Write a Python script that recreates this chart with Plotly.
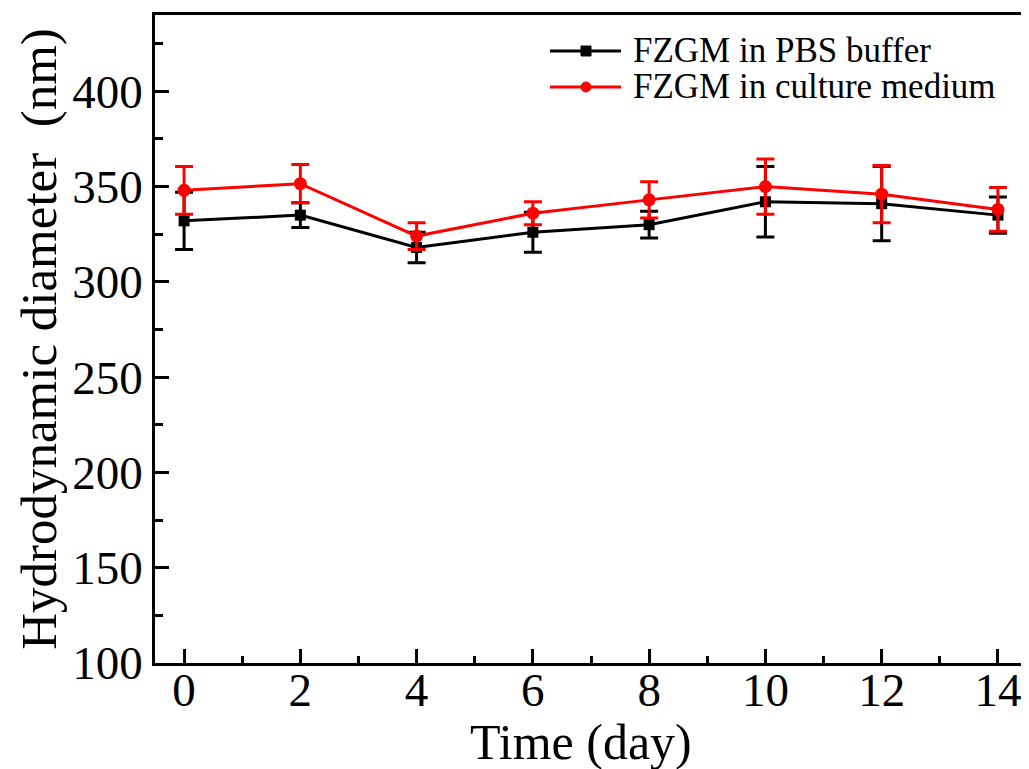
import plotly.graph_objects as go

days = [0, 2, 4, 6, 8, 10, 12, 14]
pbs_mean = [332, 335, 318, 326, 330, 342, 341, 335]
pbs_err = [15, 6.5, 8, 10.5, 7, 18.5, 19.5, 9.5]
medium_mean = [348, 351.5, 324, 336, 343, 350, 346, 338]
medium_err = [12.5, 10, 7, 6, 9.5, 14.5, 15, 11.5]
series_names = ["FZGM in PBS buffer", "FZGM in culture medium"]

FONT = "Liberation Serif, Times New Roman, serif"
OFF = 8  # page body margin
W, H = 1029 - OFF, 769 - OFF
PL, PR, PT, PB = 155, 1027, 15, 663  # plot area in page pixels
L, R, T, B = PL - OFF, W - (PR - OFF), PT - OFF, H - (PB - OFF)
pw, ph = W - L - R, H - T - B

fig = go.Figure()
fig.add_trace(go.Scatter(
    x=days, y=pbs_mean, mode="lines+markers", name=series_names[0],
    line=dict(color="black", width=3),
    marker=dict(symbol="square", size=11, color="black"),
    error_y=dict(type="data", array=pbs_err, color="black", thickness=3, width=9),
    showlegend=False, cliponaxis=False))
fig.add_trace(go.Scatter(
    x=days, y=medium_mean, mode="lines+markers", name=series_names[1],
    line=dict(color="#ff0000", width=3),
    marker=dict(symbol="circle", size=13, color="#ff0000"),
    error_y=dict(type="data", array=medium_err, color="#ff0000", thickness=3, width=9),
    showlegend=False, cliponaxis=False))

def px_x(p):
    return (p - PL) / pw

def px_y(p):
    return (PB - p) / ph

# manual legend
legend_rows = [(51, "black", "square"), (87, "#ff0000", "circle")]
for (yy, col, sym), name in zip(legend_rows, series_names):
    fig.add_shape(type="line", xref="paper", yref="paper",
                  x0=px_x(550), x1=px_x(621), y0=px_y(yy), y1=px_y(yy),
                  line=dict(color=col, width=3))
    shape_type = "rect" if sym == "square" else "circle"
    fig.add_shape(type=shape_type, xref="paper", yref="paper",
                  xsizemode="pixel", ysizemode="pixel",
                  xanchor=px_x(586), yanchor=px_y(yy),
                  x0=-5, x1=5, y0=-5, y1=5,
                  fillcolor=col, line=dict(color=col, width=1))
    fig.add_annotation(xref="paper", yref="paper", x=px_x(631), y=px_y(yy - 1),
                       text=name, showarrow=False, xanchor="left", yanchor="middle",
                       font=dict(family=FONT, size=35, color="black"))

# x-axis title (placed as annotation to match the reference's offset)
fig.add_annotation(xref="paper", yref="paper", x=px_x(581), y=px_y(712),
                   text="Time (day)", showarrow=False, xanchor="center", yanchor="top",
                   font=dict(family=FONT, size=50, color="black"))

axis_common = dict(
    showline=True, linecolor="black", linewidth=2.5, mirror=True,
    ticks="inside", ticklen=14, tickwidth=2.5, tickcolor="black",
    showgrid=False, zeroline=False, automargin=False,
    tickfont=dict(family=FONT, size=47, color="black"),
)

fig.update_xaxes(
    range=[-0.5, 14.5], tickmode="array", tickvals=days,
    ticktext=[str(d) for d in days], ticklabelstandoff=-16,
    minor=dict(ticks="inside", ticklen=7, tickwidth=2.5, tickcolor="black",
               tickvals=[1, 3, 5, 7, 9, 11, 13]),
    **axis_common)
fig.update_yaxes(
    range=[100, 440], tickmode="array", tickvals=[100, 150, 200, 250, 300, 350, 400],
    minor=dict(ticks="inside", ticklen=8, tickwidth=2.5, tickcolor="black",
               tickvals=[125, 175, 225, 275, 325, 375, 425]),
    title=dict(text="Hydrodynamic diameter  (nm)", font=dict(family=FONT, size=51, color="black"), standoff=0),
    **axis_common)

fig.update_layout(
    width=W, height=H,
    margin=dict(l=L, r=R, t=T, b=B),
    paper_bgcolor="white", plot_bgcolor="white",
    showlegend=False,
)

fig.write_html("out.html")
